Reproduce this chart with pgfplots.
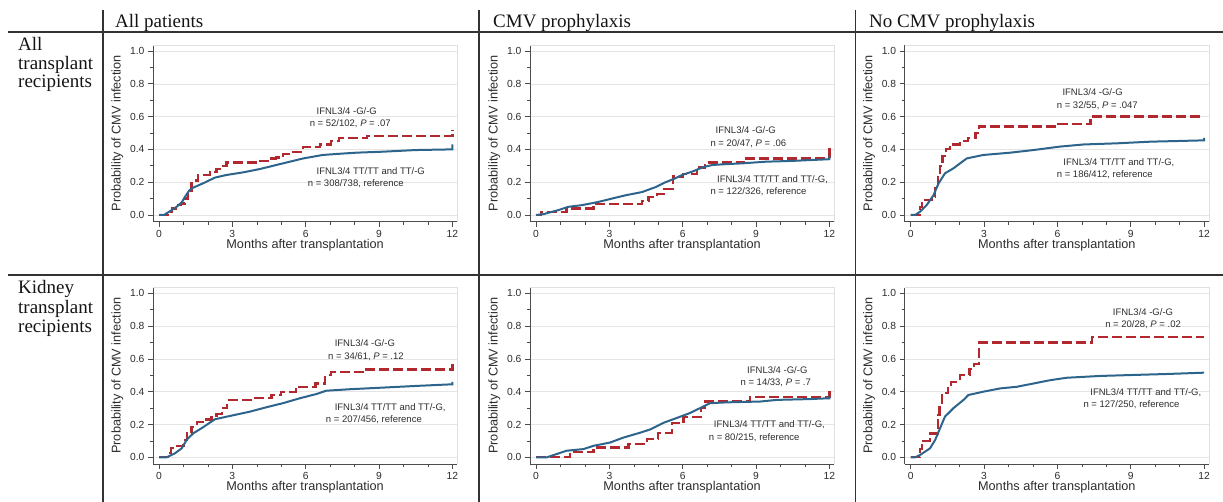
\documentclass[border=0pt]{standalone}
\usepackage{fontspec}
\setmainfont{Liberation Sans}
\newfontfamily\headfont{Liberation Serif}
\usepackage{pgfplots}
\pgfplotsset{compat=1.18}
\definecolor{kmred}{RGB}{178,40,46}
\definecolor{kmblue}{RGB}{45,100,140}
\definecolor{txt}{RGB}{45,45,45}
\pgfplotsset{
  km/.style={
    scale only axis, width=304.4pt, height=176.3pt,
    xmin=-0.25, xmax=12.2, ymin=-0.04, ymax=1.035,
    axis x line*=bottom, axis y line*=left,
    axis line style={-, draw=black!70, line width=0.7pt},
    xtick={0,3,6,9,12}, minor x tick num=2,
    ytick={0,0.2,0.4,0.6,0.8,1}, minor y tick num=1,
    tick align=outside,
    major tick length=5pt, minor tick length=3pt,
    tick style={black!70, line width=0.6pt},
    ymajorgrids, major grid style={black!10, line width=0.5pt},
    yticklabel style={/pgf/number format/.cd, fixed, fixed zerofill, precision=1},
    /pgf/number format/assume math mode=true,
    ticklabel style={font=\fontsize{10.3}{12}\selectfont, text=txt},
    xlabel={Months after transplantation},
    ylabel={Probability of CMV infection},
    every axis x label/.style={at={(axis description cs:0.5,-0.152)}, anchor=base, font=\fontsize{12.7}{14}\selectfont, text=txt},
    every axis y label/.style={at={(axis description cs:-0.0854,0.5)}, rotate=90, anchor=south, font=\fontsize{12.7}{14}\selectfont, text=txt},
    clip=false,
    anchor=south west,
  },
}
\tikzset{
  ann/.style={font=\fontsize{9.5}{11}\selectfont, text=txt, anchor=west, inner sep=0pt},
  redl/.style={draw=kmred, line width=2.2pt, dash pattern=on 10pt off 4pt, line cap=butt},
  bluel/.style={draw=kmblue, line width=2pt},
}
\newcommand{\frameit}{\draw[black!12, line width=0.5pt] (rel axis cs:0,1) -- (rel axis cs:1,1) -- (rel axis cs:1,0);}
\begin{document}
\begin{tikzpicture}
\path[use as bounding box] (0,0) rectangle (1223pt,502pt);
% table frame
\draw[black!80, line width=1.1pt] (8pt,470pt) -- (1223pt,470pt);
\draw[black!80, line width=1.1pt] (8pt,227pt) -- (1223pt,227pt);
\draw[black!80, line width=1.1pt] (103pt,492pt) -- (103pt,0pt);
\draw[black!80, line width=1.1pt] (479pt,492pt) -- (479pt,0pt);
\draw[black!80, line width=1.1pt] (855.7pt,492pt) -- (855.7pt,0pt);
% headers
\begin{scope}[every node/.style={anchor=base west, inner sep=0pt, font=\headfont\fontsize{19}{20}\selectfont, text=black!92}]
\node at (115pt,474.3pt) {All patients};
\node at (493pt,474.3pt) {CMV prophylaxis};
\node at (869pt,474.3pt) {No CMV prophylaxis};
\node at (18pt,451pt) {All};
\node at (18pt,432.5pt) {transplant};
\node at (18pt,414pt) {recipients};
\node at (18pt,208.7pt) {Kidney};
\node at (18pt,188.5pt) {transplant};
\node at (18pt,169pt) {recipients};
\end{scope}

% Panel 1: all transplant, all patients
\begin{axis}[km, at={(152.9pt,280.44pt)}]
\frameit
\addplot[const plot, no marks, redl] coordinates {(0,0) (0.35,0.02) (0.52,0.04) (0.7,0.06) (0.9,0.07) (1.06,0.10) (1.2,0.14) (1.33,0.21) (1.6,0.245) (2.08,0.26) (2.35,0.28) (2.56,0.30) (2.76,0.32) (4.05,0.33) (4.5,0.345) (4.8,0.35) (5.07,0.37) (5.5,0.385) (5.9,0.415) (6.6,0.43) (7.05,0.45) (7.35,0.47) (8.5,0.48) (12,0.48) (12,0.52)};
\addplot[sharp plot, no marks, bluel] coordinates {(0,0) (0.2,0) (0.31,0.01) (0.52,0.03) (0.72,0.05) (0.93,0.077) (1.06,0.11) (1.24,0.15) (1.4,0.167) (1.8,0.193) (2.29,0.228) (2.76,0.244) (3.44,0.26) (4.12,0.28) (4.8,0.305) (5.35,0.325) (5.9,0.345) (6.7,0.366) (7.25,0.372) (8.07,0.38) (9.16,0.386) (10.5,0.396) (11.97,0.40) (12,0.40) (12,0.43)};
\node[ann] at (axis cs:6.44,0.634) {IFNL3/4 -G/-G};
\node[ann] at (axis cs:6.16,0.559) {n = 52/102, \textit{P} = .07};
\node[ann] at (axis cs:6.44,0.268) {IFNL3/4 TT/TT and TT/-G};
\node[ann] at (axis cs:6.08,0.193) {n = 308/738, reference};
\end{axis}

% Panel 2: all transplant, prophylaxis
\begin{axis}[km, at={(529.9pt,280.44pt)}]
\frameit
\addplot[const plot, no marks, redl] coordinates {(0,0) (0.2,0.02) (1.25,0.04) (2.35,0.065) (4.35,0.085) (4.6,0.11) (4.95,0.13) (5.25,0.16) (5.6,0.235) (6.0,0.25) (6.6,0.29) (6.9,0.32) (8.5,0.345) (12,0.345) (12,0.43)};
\addplot[sharp plot, no marks, bluel] coordinates {(0,0) (0.3,0.005) (0.92,0.03) (1.33,0.05) (1.88,0.06) (2.56,0.08) (3.1,0.10) (3.66,0.12) (4.34,0.14) (4.89,0.17) (5.3,0.20) (5.64,0.22) (5.99,0.245) (6.4,0.265) (6.8,0.29) (7.21,0.305) (7.77,0.31) (8.45,0.315) (9.4,0.325) (10.5,0.33) (11.97,0.34) (12,0.34) (12,0.36)};
\node[ann] at (axis cs:7.34,0.518) {IFNL3/4 -G/-G};
\node[ann] at (axis cs:7.13,0.437) {n = 20/47, \textit{P} = .06};
\node[ann] at (axis cs:7.4,0.218) {IFNL3/4 TT/TT and TT/-G,};
\node[ann] at (axis cs:7.13,0.142) {n = 122/326, reference};
\end{axis}

% Panel 3: all transplant, no prophylaxis
\begin{axis}[km, at={(904.6pt,280.44pt)}]
\frameit
\addplot[const plot, no marks, redl] coordinates {(0,0) (0.38,0.05) (0.45,0.09) (0.85,0.11) (1.0,0.17) (1.1,0.24) (1.2,0.30) (1.3,0.36) (1.45,0.40) (1.6,0.43) (2.0,0.45) (2.35,0.47) (2.65,0.50) (2.8,0.54) (6.04,0.555) (7.35,0.60) (12,0.60)};
\addplot[sharp plot, no marks, bluel] coordinates {(0,0) (0.18,0) (0.38,0.02) (0.65,0.06) (0.93,0.12) (1.13,0.19) (1.4,0.254) (1.75,0.285) (2.29,0.345) (2.97,0.366) (4.07,0.38) (5.02,0.396) (6.1,0.417) (7.07,0.43) (8.43,0.437) (9.8,0.447) (11.97,0.455) (12,0.455) (12,0.47)};
\node[ann] at (axis cs:6.2,0.752) {IFNL3/4 -G/-G};
\node[ann] at (axis cs:5.97,0.667) {n = 32/55, \textit{P} = .047};
\node[ann] at (axis cs:6.24,0.321) {IFNL3/4 TT/TT and TT/-G,};
\node[ann] at (axis cs:5.97,0.248) {n = 186/412, reference};
\end{axis}

% Panel 4: kidney, all patients
\begin{axis}[km, at={(152.9pt,38.14pt)}]
\frameit
\addplot[const plot, no marks, redl] coordinates {(0,0) (0.38,0.025) (0.5,0.055) (0.65,0.07) (1.0,0.105) (1.13,0.146) (1.33,0.187) (1.54,0.217) (1.8,0.23) (2.15,0.244) (2.35,0.264) (2.56,0.30) (2.79,0.35) (3.8,0.36) (4.6,0.38) (5.0,0.40) (5.6,0.43) (6.4,0.45) (6.8,0.50) (7.05,0.52) (8.48,0.535) (12,0.535) (12,0.57)};
\addplot[sharp plot, no marks, bluel] coordinates {(0,0) (0.31,0) (0.65,0.024) (0.93,0.055) (1.13,0.106) (1.4,0.146) (1.8,0.183) (2.29,0.232) (2.9,0.252) (3.71,0.278) (4.39,0.305) (5.07,0.33) (5.76,0.36) (6.44,0.386) (6.84,0.406) (7.8,0.415) (9.16,0.425) (10.5,0.435) (11.97,0.445) (12,0.445) (12,0.46)};
\node[ann] at (axis cs:7.18,0.695) {IFNL3/4 -G/-G};
\node[ann] at (axis cs:6.91,0.613) {n = 34/61, \textit{P} = .12};
\node[ann] at (axis cs:7.18,0.305) {IFNL3/4 TT/TT and TT/-G,};
\node[ann] at (axis cs:6.82,0.227) {n = 207/456, reference};
\end{axis}

% Panel 5: kidney, prophylaxis
\begin{axis}[km, at={(529.9pt,38.14pt)}]
\frameit
\addplot[const plot, no marks, redl] coordinates {(0,0) (1.39,0.03) (2.35,0.06) (3.78,0.08) (4.53,0.11) (5.0,0.15) (5.55,0.21) (6.03,0.245) (6.75,0.30) (6.92,0.34) (8.76,0.37) (12,0.37) (12,0.43)};
\addplot[sharp plot, no marks, bluel] coordinates {(0,0) (0.44,0) (0.85,0.02) (1.25,0.04) (1.94,0.05) (2.35,0.07) (3.03,0.09) (3.57,0.12) (4.26,0.15) (4.67,0.17) (5.21,0.21) (5.76,0.24) (6.3,0.27) (6.71,0.30) (7.12,0.33) (7.8,0.335) (9.17,0.34) (9.85,0.35) (11.2,0.355) (11.97,0.36) (12,0.36) (12,0.375)};
\node[ann] at (axis cs:8.63,0.532) {IFNL3/4 -G/-G};
\node[ann] at (axis cs:8.36,0.455) {n = 14/33, \textit{P} = .7};
\node[ann] at (axis cs:7.27,0.197) {IFNL3/4 TT/TT and TT/-G,};
\node[ann] at (axis cs:7.06,0.122) {n = 80/215, reference};
\end{axis}

% Panel 6: kidney, no prophylaxis
\begin{axis}[km, at={(904.6pt,38.14pt)}]
\frameit
\addplot[const plot, no marks, redl] coordinates {(0,0) (0.38,0.05) (0.45,0.10) (0.78,0.145) (1.12,0.26) (1.18,0.33) (1.27,0.39) (1.54,0.43) (1.65,0.46) (2.0,0.50) (2.4,0.54) (2.6,0.57) (2.8,0.70) (7.4,0.735) (12,0.735)};
\addplot[sharp plot, no marks, bluel] coordinates {(0,0) (0.18,0) (0.38,0.014) (0.79,0.055) (1.0,0.106) (1.2,0.177) (1.4,0.248) (1.75,0.30) (2.16,0.35) (2.36,0.38) (2.97,0.40) (3.66,0.42) (4.34,0.43) (5.02,0.45) (5.7,0.47) (6.38,0.485) (7.75,0.496) (9.1,0.502) (10.5,0.508) (12,0.516)};
\node[ann] at (axis cs:8.26,0.888) {IFNL3/4 -G/-G};
\node[ann] at (axis cs:7.95,0.807) {n = 20/28, \textit{P} = .02};
\node[ann] at (axis cs:7.34,0.394) {IFNL3/4 TT/TT and TT/-G,};
\node[ann] at (axis cs:7.06,0.319) {n = 127/250, reference};
\end{axis}
\end{tikzpicture}
\end{document}
